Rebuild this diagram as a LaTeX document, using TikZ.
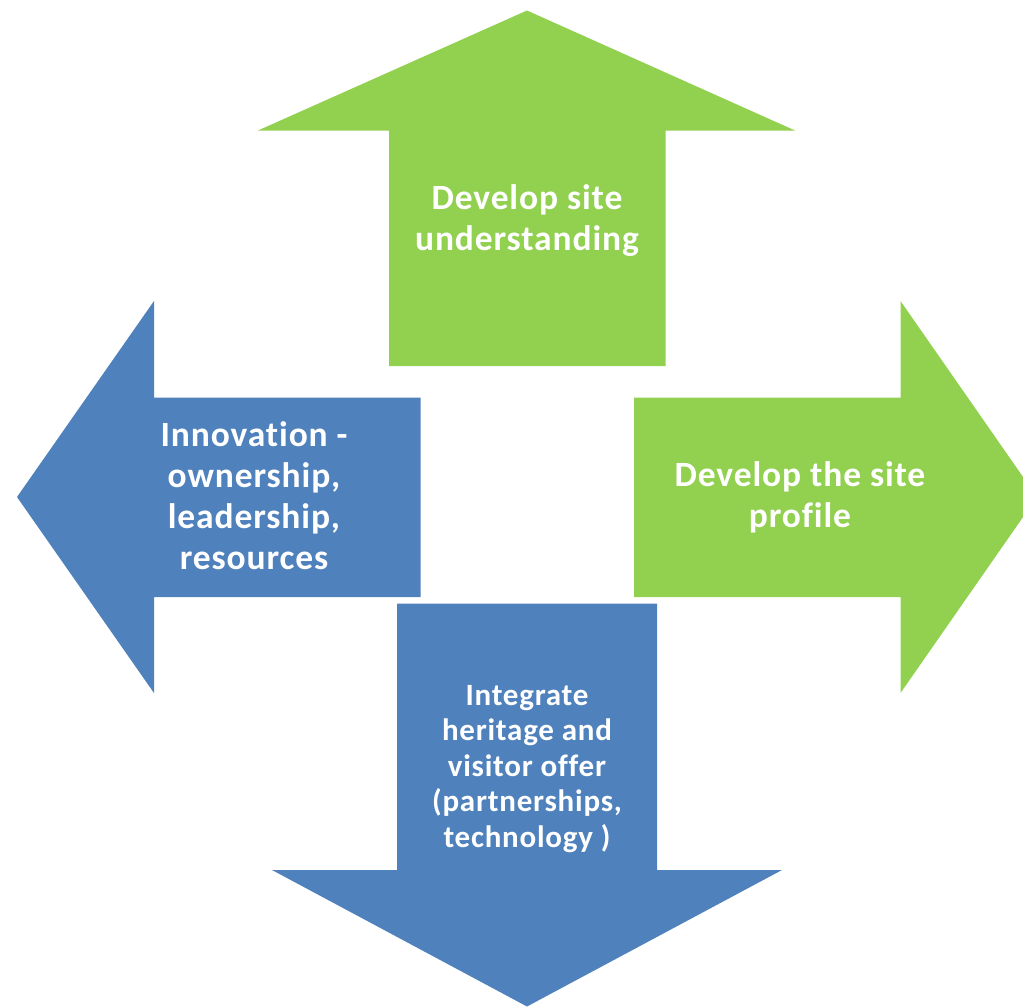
\documentclass[tikz,border=0pt]{standalone}
\usepackage{fontspec}
\setmainfont[Ligatures=NoCommon,LetterSpace=2.5]{Carlito}
\definecolor{agreen}{HTML}{92D050}
\definecolor{ablue}{HTML}{4F81BD}
\tikzset{
  lbl/.style={text=white, font=\bfseries\fontsize{35.5}{41}\selectfont, align=center, inner sep=0pt},
  lblsmall/.style={text=white, font=\bfseries\fontsize{31}{35.5}\selectfont, align=center, inner sep=0pt}
}
\begin{document}
\begin{tikzpicture}[x=1pt,y=-1pt]
\useasboundingbox (0,0) rectangle (1023,1007);
\clip (0,0) rectangle (1023,1007);
% up arrow
\fill[agreen] (389,366) -- (389,130.5) -- (258,130.5) -- (527,10.5) -- (795,130.5) -- (665.5,130.5) -- (665.5,366) -- cycle;
% right arrow
\fill[agreen] (634,397.5) -- (900.5,397.5) -- (900.5,301) -- (1037,497) -- (900.5,693) -- (900.5,597) -- (634,597) -- cycle;
% left arrow
\fill[ablue] (420.5,397.5) -- (154,397.5) -- (154,301) -- (17,497) -- (154,693) -- (154,597) -- (420.5,597) -- cycle;
% down arrow
\fill[ablue] (397,603.5) -- (657,603.5) -- (657,870) -- (782,870) -- (527,1006.5) -- (272,870) -- (397,870) -- cycle;
\node[lbl] (up) at (527,221) {Develop site\\understanding};
\node[lbl] (right) at (800,497) {Develop the site\\profile};
\node[lbl] (left) at (254,496) {Innovation -\\ownership,\\leadership,\\resources};
\node[lblsmall] (down) at (527,769) {Integrate\\heritage and\\visitor offer\\(partnerships,\\technology )};
\end{tikzpicture}
\end{document}
